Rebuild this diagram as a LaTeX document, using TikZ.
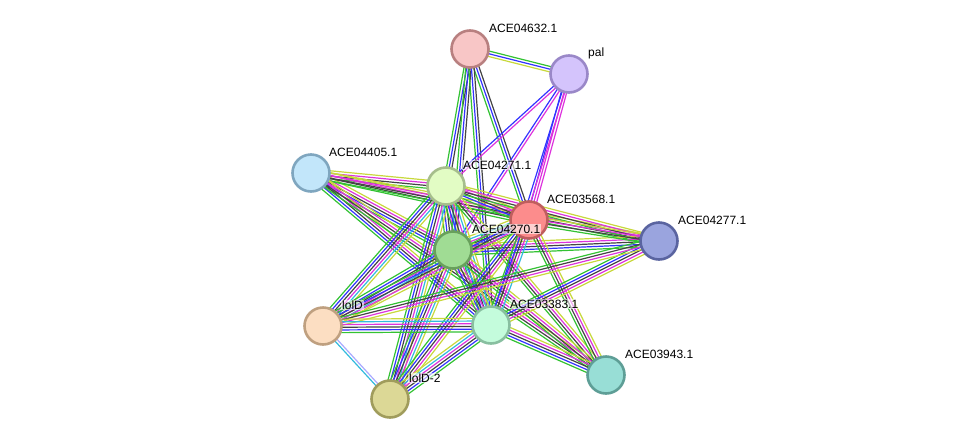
\documentclass[tikz,border=0pt]{standalone}
\usepackage{fontspec}
\setmainfont{Liberation Sans}
\usetikzlibrary{calc}
\pgfdeclarelayer{background}
\pgfsetlayers{background,main}
\definecolor{cg}{HTML}{33C233}
\definecolor{cb}{HTML}{3333FF}
\definecolor{ck}{HTML}{444444}
\definecolor{cm}{HTML}{DD33DD}
\definecolor{cc}{HTML}{33BBDD}
\definecolor{cy}{HTML}{C8D83C}
\definecolor{cl}{HTML}{AAAAFF}
\newcommand\sedge[4]{%
  \foreach \c [count=\i] in {#4}{%
    \pgfmathsetmacro\off{(\i-(#3+1)/2)*2.7}%
    \draw[edgeline,draw=\c] ($(#1)!\off pt!90:(#2)$) -- ($(#2)!\off pt!-90:(#1)$);
  }}
\tikzset{
  prot/.style={circle,minimum size=37pt,inner sep=0pt,line width=2.6pt},
  lab/.style={anchor=west,font=\fontsize{12}{14}\selectfont,fill=white,fill opacity=0.6,text opacity=1,inner sep=1pt},
  edgeline/.style={line width=1.2pt}
}
\begin{document}
\begin{tikzpicture}[x=1pt,y=-1pt]
\useasboundingbox (0,0) rectangle (975,445);
\node[prot,fill={rgb,255:red,248;green,198;blue,198},draw={rgb,255:red,184;green,128;blue,128}] (n04632) at (470,49) {};
\node[prot,fill={rgb,255:red,212;green,196;blue,252},draw={rgb,255:red,154;green,136;blue,200}] (npal) at (569,74) {};
\node[prot,fill={rgb,255:red,194;green,230;blue,250},draw={rgb,255:red,127;green,166;blue,191}] (n04405) at (311,173) {};
\node[prot,fill={rgb,255:red,226;green,252;blue,196},draw={rgb,255:red,166;green,190;blue,140}] (n04271) at (446,186) {};
\node[prot,fill={rgb,255:red,252;green,140;blue,140},draw={rgb,255:red,191;green,94;blue,94}] (n03568) at (529,220) {};
\node[prot,fill={rgb,255:red,154;green,164;blue,222},draw={rgb,255:red,90;green,100;blue,160}] (n04277) at (659,241) {};
\node[prot,fill={rgb,255:red,160;green,220;blue,148},draw={rgb,255:red,104;green,160;blue,92}] (n04270) at (453,250) {};
\node[prot,fill={rgb,255:red,252;green,222;blue,194},draw={rgb,255:red,191;green,160;blue,128}] (nlolD) at (323,326) {};
\node[prot,fill={rgb,255:red,196;green,252;blue,220},draw={rgb,255:red,136;green,191;blue,160}] (n03383) at (491,325) {};
\node[prot,fill={rgb,255:red,152;green,222;blue,214},draw={rgb,255:red,94;green,158;blue,150}] (n03943) at (606,375) {};
\node[prot,fill={rgb,255:red,220;green,216;blue,150},draw={rgb,255:red,160;green,156;blue,92}] (nlolD2) at (390,399) {};
\begin{pgfonlayer}{background}
\sedge{n04632}{npal}{3}{cy,cb,cg}
\sedge{n04632}{n04271}{3}{cg,cb,ck}
\sedge{n04632}{n04270}{3}{cg,cb,ck}
\sedge{n04632}{n03568}{3}{cg,cb,ck}
\sedge{n04632}{n03383}{3}{cg,cb,ck}
\sedge{npal}{n04271}{2}{cb,cm}
\sedge{npal}{n04270}{2}{cb,cm}
\sedge{npal}{n03568}{3}{cb,cm,cm}
\sedge{npal}{n03383}{2}{cb,cm}
\sedge{n04405}{n04271}{4}{cg,ck,cm,cy}
\sedge{n04405}{n04270}{5}{cg,cb,ck,cm,cy}
\sedge{n04405}{n03568}{4}{cg,ck,cm,cy}
\sedge{n04405}{n04277}{4}{cg,ck,cm,cy}
\sedge{n04405}{n03383}{5}{cg,cb,ck,cm,cy}
\sedge{n04405}{n03943}{4}{cg,ck,cm,cy}
\sedge{n04271}{n04270}{6}{cg,cb,ck,cm,cc,cy}
\sedge{n04271}{n03568}{5}{cg,cb,ck,cm,cy}
\sedge{n04271}{n04277}{4}{cg,ck,cm,cy}
\sedge{n04271}{nlolD}{6}{cg,cb,ck,cm,cc,cy}
\sedge{n04271}{nlolD2}{6}{cg,cb,ck,cm,cc,cy}
\sedge{n04271}{n03383}{6}{cg,cb,ck,cm,cc,cy}
\sedge{n04271}{n03943}{4}{cg,ck,cm,cy}
\sedge{n04270}{n03568}{6}{cg,cb,ck,cm,cc,cy}
\sedge{n04270}{n04277}{5}{cg,cb,ck,cm,cy}
\sedge{n04270}{nlolD}{6}{cg,cb,ck,cm,cc,cy}
\sedge{n04270}{nlolD2}{6}{cg,cb,ck,cm,cc,cy}
\sedge{n04270}{n03383}{6}{cg,cb,ck,cm,cc,cy}
\sedge{n04270}{n03943}{4}{cg,ck,cm,cy}
\sedge{n03568}{n04277}{4}{cg,ck,cm,cy}
\sedge{n03568}{nlolD}{5}{cg,cb,ck,cm,cy}
\sedge{n03568}{nlolD2}{5}{cg,cb,ck,cm,cy}
\sedge{n03568}{n03383}{5}{cg,cb,ck,cm,cc}
\sedge{n03568}{n03943}{4}{cg,ck,cm,cy}
\sedge{n04277}{n03383}{5}{cg,cb,ck,cm,cy}
\sedge{n04277}{nlolD}{4}{cg,ck,cm,cy}
\sedge{nlolD}{n03383}{6}{cg,cb,ck,cm,cc,cy}
\sedge{nlolD}{nlolD2}{2}{cc,cl}
\sedge{nlolD2}{n03383}{6}{cg,cb,ck,cm,cc,cy}
\sedge{n03383}{n03943}{5}{cg,cb,ck,cm,cy}
\end{pgfonlayer}
\node[lab] (l04632) at (488,28) {ACE04632.1};
\node[lab] (lpal) at (587,53) {pal};
\node[lab] (l04405) at (328,152) {ACE04405.1};
\node[lab] (l04271) at (462,165) {ACE04271.1};
\node[lab] (l03568) at (546,199) {ACE03568.1};
\node[lab] (l04277) at (677,220) {ACE04277.1};
\node[lab] (l04270) at (471,229) {ACE04270.1};
\node[lab] (llolD) at (341,305) {lolD};
\node[lab] (l03383) at (509,304) {ACE03383.1};
\node[lab] (l03943) at (624,354) {ACE03943.1};
\node[lab] (llolD2) at (408,378) {lolD-2};
\end{tikzpicture}
\end{document}
